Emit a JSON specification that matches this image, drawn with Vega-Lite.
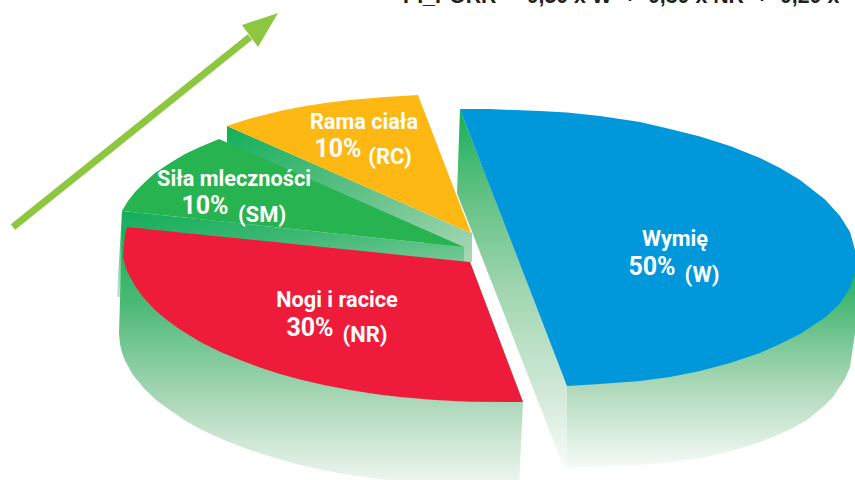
{"$schema":"https://vega.github.io/schema/vega-lite/v6.json","width":855,"height":480,"padding":0,"autosize":{"type":"none"},"background":"white","config":{"view":{"stroke":null}},
"datasets":{"outlines":[
{"part":"wallRed","x":119,"y":333,"y2":333},{"part":"wallRed","x":120,"y":300,"y2":344},{"part":"wallRed","x":122,"y":228,"y2":352.5},{"part":"wallRed","x":125,"y":228,"y2":360.5},{"part":"wallRed","x":133,"y":228,"y2":375},{"part":"wallRed","x":145,"y":228,"y2":389.5},{"part":"wallRed","x":157,"y":230,"y2":400.7},{"part":"wallRed","x":167,"y":231,"y2":408},{"part":"wallRed","x":185,"y":233,"y2":420.4},{"part":"wallRed","x":200,"y":234.4,"y2":429},{"part":"wallRed","x":225,"y":237,"y2":440.4},{"part":"wallRed","x":250,"y":239.5,"y2":450},{"part":"wallRed","x":275,"y":242,"y2":458},{"part":"wallRed","x":300,"y":244.7,"y2":465},{"part":"wallRed","x":325,"y":247,"y2":470.4},{"part":"wallRed","x":350,"y":249.8,"y2":475},{"part":"wallRed","x":400,"y":254.9,"y2":481.7},{"part":"wallRed","x":450,"y":260,"y2":485},{"part":"wallRed","x":470,"y":262,"y2":486},{"part":"wallRed","x":519,"y":391.5,"y2":486},{"part":"wallRed","x":523,"y":402,"y2":402},
{"part":"strip","x":117,"y":297,"y2":297},{"part":"strip","x":122,"y":211,"y2":297},
{"part":"wallBlue","x":564,"y":378,"y2":468},{"part":"wallBlue","x":600,"y":380,"y2":467},{"part":"wallBlue","x":640,"y":377,"y2":465},{"part":"wallBlue","x":675,"y":372,"y2":461.5},{"part":"wallBlue","x":690,"y":369,"y2":459.5},{"part":"wallBlue","x":707,"y":366,"y2":457},{"part":"wallBlue","x":725,"y":358,"y2":452.5},{"part":"wallBlue","x":740,"y":352,"y2":448.5},{"part":"wallBlue","x":757,"y":345,"y2":443},{"part":"wallBlue","x":773,"y":338,"y2":437},{"part":"wallBlue","x":790,"y":329,"y2":429.5},{"part":"wallBlue","x":807,"y":318,"y2":420},{"part":"wallBlue","x":823,"y":305,"y2":407},{"part":"wallBlue","x":833,"y":295,"y2":397},{"part":"wallBlue","x":845,"y":278,"y2":379},{"part":"wallBlue","x":850,"y":275,"y2":367},{"part":"wallBlue","x":855,"y":265,"y2":333},
{"part":"faceBlue","x":457,"y":193,"y2":193},{"part":"faceBlue","x":460,"y":109,"y2":201},{"part":"faceBlue","x":564,"y":378,"y2":468},{"part":"faceBlue","x":567,"y":386,"y2":468},
{"part":"bandOrange","x":227,"y":126,"y2":145},{"part":"bandOrange","x":464,"y":230,"y2":262},{"part":"bandOrange","x":472,"y":233,"y2":262},
{"part":"bandSM","x":122,"y":211,"y2":228},{"part":"bandSM","x":464,"y":247,"y2":262},
{"part":"topSM","x":122,"y":211,"y2":211},{"part":"topSM","x":128,"y":201,"y2":211.6},{"part":"topSM","x":135,"y":192,"y2":212.4},{"part":"topSM","x":145,"y":182,"y2":213.4},{"part":"topSM","x":155,"y":173,"y2":214.5},{"part":"topSM","x":170,"y":163,"y2":216},{"part":"topSM","x":185,"y":154,"y2":217.6},{"part":"topSM","x":200,"y":147,"y2":219.2},{"part":"topSM","x":219,"y":139,"y2":221.2},{"part":"topSM","x":464,"y":247,"y2":247},
{"part":"topOrange","x":227,"y":126,"y2":126},{"part":"topOrange","x":245,"y":120,"y2":133.9},{"part":"topOrange","x":260,"y":116,"y2":140.5},{"part":"topOrange","x":280,"y":111,"y2":149.2},{"part":"topOrange","x":300,"y":107,"y2":158},{"part":"topOrange","x":325,"y":103,"y2":169},{"part":"topOrange","x":350,"y":100,"y2":180},{"part":"topOrange","x":385,"y":97,"y2":195.3},{"part":"topOrange","x":418,"y":95,"y2":209.8},{"part":"topOrange","x":471,"y":233,"y2":233},
{"part":"topRed","x":123,"y":257,"y2":257},{"part":"topRed","x":123.5,"y":248,"y2":259},{"part":"topRed","x":125,"y":236,"y2":265},{"part":"topRed","x":127,"y":227,"y2":271},{"part":"topRed","x":135,"y":227.8,"y2":286},{"part":"topRed","x":143,"y":228.6,"y2":297},{"part":"topRed","x":155,"y":229.9,"y2":310},{"part":"topRed","x":167,"y":231,"y2":320},{"part":"topRed","x":180,"y":232.4,"y2":329.6},{"part":"topRed","x":200,"y":234.4,"y2":341.7},{"part":"topRed","x":220,"y":236.5,"y2":351.7},{"part":"topRed","x":240,"y":238.5,"y2":360},{"part":"topRed","x":260,"y":240.6,"y2":367.6},{"part":"topRed","x":280,"y":242.6,"y2":374},{"part":"topRed","x":300,"y":244.7,"y2":379.5},{"part":"topRed","x":325,"y":247.2,"y2":385.3},{"part":"topRed","x":350,"y":249.8,"y2":390},{"part":"topRed","x":375,"y":252.3,"y2":394},{"part":"topRed","x":400,"y":254.9,"y2":397},{"part":"topRed","x":435,"y":258.4,"y2":400},{"part":"topRed","x":470,"y":262,"y2":401.8},{"part":"topRed","x":523,"y":402,"y2":402},
{"part":"topBlue","x":460,"y":109,"y2":109},{"part":"topBlue","x":490,"y":109,"y2":187},{"part":"topBlue","x":500,"y":109.5,"y2":212.6},{"part":"topBlue","x":540,"y":111,"y2":316},{"part":"topBlue","x":567,"y":112.4,"y2":386},{"part":"topBlue","x":600,"y":116,"y2":384},{"part":"topBlue","x":640,"y":122,"y2":381},{"part":"topBlue","x":670,"y":129,"y2":377},{"part":"topBlue","x":700,"y":136.5,"y2":371},{"part":"topBlue","x":730,"y":146,"y2":363},{"part":"topBlue","x":760,"y":158,"y2":353},{"part":"topBlue","x":780,"y":168,"y2":344},{"part":"topBlue","x":800,"y":180,"y2":334},{"part":"topBlue","x":825,"y":199.5,"y2":317.5},{"part":"topBlue","x":840,"y":216,"y2":303.5},{"part":"topBlue","x":850,"y":232,"y2":288},{"part":"topBlue","x":855,"y":250,"y2":273},
{"part":"shaft","x":13,"y":227},{"part":"shaft","x":250,"y":37},
{"part":"head","x":242,"y":25,"y2":25},{"part":"head","x":258,"y":19.7,"y2":47},{"part":"head","x":278,"y":13,"y2":13}
],
"labels":[
{"x":675,"y":239,"text":"Wymię","kind":"name"},{"x":652,"y":267,"text":"50%","kind":"share"},{"x":702,"y":275,"text":"(W)","kind":"code"},
{"x":337,"y":300,"text":"Nogi i racice","kind":"name"},{"x":310,"y":328,"text":"30%","kind":"share"},{"x":365,"y":335,"text":"(NR)","kind":"code"},
{"x":234,"y":179,"text":"Siła mleczności","kind":"name"},{"x":205,"y":206,"text":"10%","kind":"share"},{"x":262,"y":215,"text":"(SM)","kind":"code"},
{"x":364,"y":122,"text":"Rama ciała","kind":"name"},{"x":338,"y":149,"text":"10%","kind":"share"},{"x":390,"y":157,"text":"(RC)","kind":"code"}
],
"formula":[{"x":403,"y":3,"text":"PI_PORR \u00a0= 0,50 x W \u00a0+\u00a0 0,30 x NR \u00a0+\u00a0 0,20 x"}]},
"data":{"name":"outlines"},
"encoding":{"x":{"field":"x","type":"quantitative","axis":null,"scale":{"domain":[0,855],"nice":false,"zero":false}},"y":{"field":"y","type":"quantitative","axis":null,"scale":{"domain":[480,0],"nice":false,"zero":false}}},
"layer":[
{"transform":[{"filter":"datum.part==='strip'"}],"mark":{"type":"area","color":{"gradient":"linear","x1":0,"y1":0,"x2":0,"y2":1,"stops":[{"offset":0,"color":"#13af57"},{"offset":1,"color":"#c5e5cd"}]}},"encoding":{"y2":{"field":"y2"}}},
{"transform":[{"filter":"datum.part==='wallRed'"}],"mark":{"type":"area","color":{"gradient":"linear","x1":0,"y1":0,"x2":0,"y2":1,"stops":[{"offset":0,"color":"#13af57"},{"offset":0.3,"color":"#4dba78"},{"offset":0.68,"color":"#aed8ba"},{"offset":1,"color":"#f0f8f2"}]}},"encoding":{"y2":{"field":"y2"}}},
{"transform":[{"filter":"datum.part==='wallBlue'"}],"mark":{"type":"area","color":{"gradient":"linear","x1":0,"y1":0,"x2":0,"y2":1,"stops":[{"offset":0,"color":"#1fae60"},{"offset":0.2,"color":"#4dba78"},{"offset":0.6,"color":"#aed8ba"},{"offset":1,"color":"#f6fbf7"}]}},"encoding":{"y2":{"field":"y2"}}},
{"transform":[{"filter":"datum.part==='faceBlue'"}],"mark":{"type":"area","color":{"gradient":"linear","x1":0.5,"y1":0,"x2":0.5,"y2":1,"stops":[{"offset":0,"color":"#14b05a"},{"offset":0.22,"color":"#5cc07f"},{"offset":0.5,"color":"#a0d5b0"},{"offset":0.78,"color":"#cfe8d6"},{"offset":1,"color":"#f8fcf9"}]}},"encoding":{"y2":{"field":"y2"}}},
{"transform":[{"filter":"datum.part==='bandOrange'"}],"mark":{"type":"area","color":{"gradient":"linear","x1":0,"y1":0,"x2":1,"y2":1,"stops":[{"offset":0,"color":"#12af5a"},{"offset":0.5,"color":"#5fc086"},{"offset":1,"color":"#a8d8b4"}]}},"encoding":{"y2":{"field":"y2"}}},
{"transform":[{"filter":"datum.part==='bandSM'"}],"mark":{"type":"area","color":{"gradient":"linear","x1":0,"y1":0,"x2":1,"y2":1,"stops":[{"offset":0,"color":"#12ae5a"},{"offset":0.5,"color":"#3cb873"},{"offset":1,"color":"#78c896"}]}},"encoding":{"y2":{"field":"y2"}}},
{"transform":[{"filter":"datum.part==='topSM'"}],"mark":{"type":"area","color":"#27b34f"},"encoding":{"y2":{"field":"y2"}}},
{"transform":[{"filter":"datum.part==='topOrange'"}],"mark":{"type":"area","color":"#fdb813"},"encoding":{"y2":{"field":"y2"}}},
{"transform":[{"filter":"datum.part==='topRed'"}],"mark":{"type":"area","color":"#ee1c3a"},"encoding":{"y2":{"field":"y2"}}},
{"transform":[{"filter":"datum.part==='topBlue'"}],"mark":{"type":"area","color":"#0097db"},"encoding":{"y2":{"field":"y2"}}},
{"transform":[{"filter":"datum.part==='shaft'"}],"mark":{"type":"line","color":"#8dc63f","strokeWidth":7,"strokeCap":"butt"}},
{"transform":[{"filter":"datum.part==='head'"}],"mark":{"type":"area","color":"#8dc63f"},"encoding":{"y2":{"field":"y2"}}},
{"data":{"name":"labels"},"transform":[{"filter":"datum.kind==='name'"}],"mark":{"type":"text","font":"Roboto","fontWeight":"bold","fontSize":21.7,"color":"white","align":"center","baseline":"middle"},"encoding":{"text":{"field":"text"}}},
{"data":{"name":"labels"},"transform":[{"filter":"datum.kind==='share'"}],"mark":{"type":"text","font":"Roboto","fontWeight":"bold","fontSize":25,"color":"white","align":"center","baseline":"middle"},"encoding":{"text":{"field":"text"}}},
{"data":{"name":"labels"},"transform":[{"filter":"datum.kind==='code'"}],"mark":{"type":"text","font":"Roboto","fontWeight":"bold","fontSize":22,"color":"white","align":"center","baseline":"middle"},"encoding":{"text":{"field":"text"}}},
{"data":{"name":"formula"},"mark":{"type":"text","font":"Liberation Sans","fontWeight":"bold","fontSize":21.3,"color":"#231f20","align":"left","baseline":"alphabetic"},"encoding":{"text":{"field":"text"}}}
]}
